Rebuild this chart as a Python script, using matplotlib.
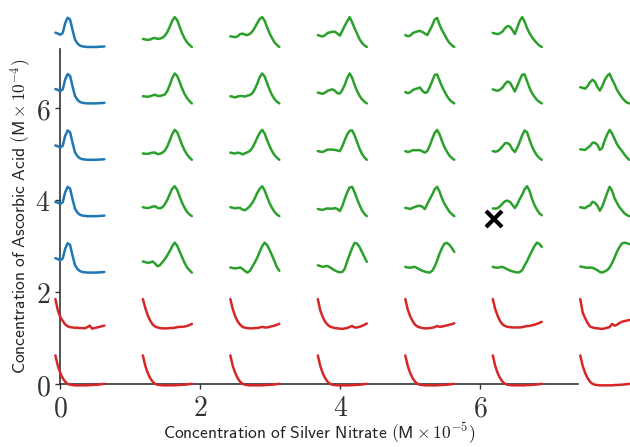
import numpy as np
import matplotlib
matplotlib.use("Agg")
import matplotlib.pyplot as plt

plt.rcParams["mathtext.fontset"] = "cm"

# grid of concentrations (x: silver nitrate, y: ascorbic acid)
silver_conc = [0.0, 1.25, 2.5, 3.75, 5.0, 6.25, 7.5]
ascorbic_conc = [0.0, 1.225, 2.45, 3.675, 4.9, 6.125, 7.35]
x_ticks = [0, 2, 4, 6]
y_ticks = [0, 2, 4, 6]
marker_x, marker_y = 6.2, 3.59

# normalised spectra, 21 samples each
blue_spec = [0.48, 0.45, 0.41, 0.47, 0.80, 0.98, 0.92, 0.57, 0.25, 0.12, 0.05,
             0.02, 0.01, 0.0, 0.0, 0.0, 0.0, 0.0, 0.01, 0.01, 0.02]

red_low = [1.0, 0.65, 0.41, 0.24, 0.12, 0.05, 0.02, 0.01, 0.0, 0.0, 0.0,
           0.0, 0.0, 0.0, 0.01, 0.01, 0.02, 0.02, 0.03, 0.04, 0.05]

# second row of red spectra, one per column
red_mid = [
    [1.0, 0.62, 0.40, 0.27, 0.15, 0.09, 0.06, 0.05, 0.04, 0.04, 0.03,
     0.03, 0.02, 0.06, 0.11, 0.01, 0.03, 0.05, 0.07, 0.09, 0.11],
    [1.0, 0.70, 0.45, 0.28, 0.15, 0.08, 0.05, 0.03, 0.02, 0.02, 0.02,
     0.03, 0.03, 0.04, 0.06, 0.07, 0.07, 0.08, 0.10, 0.13, 0.17],
    [1.0, 0.66, 0.42, 0.25, 0.14, 0.07, 0.04, 0.03, 0.02, 0.02, 0.03,
     0.03, 0.05, 0.07, 0.05, 0.05, 0.07, 0.09, 0.11, 0.14, 0.17],
    [1.0, 0.62, 0.40, 0.24, 0.14, 0.08, 0.05, 0.03, 0.02, 0.01, 0.0,
     0.02, 0.03, 0.07, 0.10, 0.05, 0.05, 0.07, 0.10, 0.14, 0.18],
    [1.0, 0.65, 0.42, 0.26, 0.14, 0.08, 0.05, 0.03, 0.02, 0.02, 0.03,
     0.04, 0.06, 0.10, 0.07, 0.08, 0.10, 0.12, 0.14, 0.16, 0.19],
    [1.0, 0.66, 0.44, 0.26, 0.15, 0.10, 0.07, 0.06, 0.05, 0.05, 0.05,
     0.05, 0.06, 0.08, 0.10, 0.10, 0.12, 0.14, 0.17, 0.20, 0.24],
    [1.0, 0.55, 0.36, 0.20, 0.08, 0.05, 0.03, 0.02, 0.01, 0.0, 0.02,
     0.04, 0.06, 0.17, 0.11, 0.14, 0.20, 0.24, 0.26, 0.28, 0.30],
]

# green spectra per column, rows 2..6 (bottom to top)
green_c1 = [
    [0.37, 0.35, 0.32, 0.34, 0.37, 0.30, 0.21, 0.25, 0.35, 0.45, 0.58,
     0.72, 0.88, 1.0, 0.90, 0.70, 0.52, 0.33, 0.18, 0.08, 0.0],
    [0.30, 0.28, 0.27, 0.29, 0.32, 0.33, 0.28, 0.26, 0.30, 0.40, 0.55,
     0.74, 0.92, 1.0, 0.88, 0.66, 0.45, 0.28, 0.15, 0.06, 0.0],
    [0.21, 0.20, 0.20, 0.22, 0.24, 0.24, 0.19, 0.20, 0.24, 0.31, 0.45,
     0.65, 0.86, 1.0, 0.92, 0.72, 0.50, 0.32, 0.18, 0.08, 0.0],
    [0.24, 0.23, 0.22, 0.24, 0.27, 0.29, 0.25, 0.25, 0.27, 0.30, 0.42,
     0.62, 0.85, 1.0, 0.92, 0.72, 0.50, 0.32, 0.18, 0.08, 0.0],
    [0.27, 0.25, 0.24, 0.25, 0.29, 0.30, 0.27, 0.28, 0.31, 0.38, 0.50,
     0.68, 0.88, 1.0, 0.90, 0.68, 0.46, 0.29, 0.16, 0.07, 0.0],
]
green_c2 = [
    [0.17, 0.15, 0.14, 0.15, 0.17, 0.12, 0.05, 0.0, 0.06, 0.20, 0.34,
     0.50, 0.70, 0.88, 1.0, 0.92, 0.76, 0.58, 0.38, 0.18, 0.06],
    [0.30, 0.28, 0.26, 0.28, 0.27, 0.22, 0.20, 0.26, 0.34, 0.45, 0.60,
     0.78, 0.92, 1.0, 0.86, 0.64, 0.44, 0.28, 0.15, 0.06, 0.0],
    [0.24, 0.22, 0.21, 0.24, 0.22, 0.18, 0.22, 0.25, 0.30, 0.40, 0.56,
     0.74, 0.90, 1.0, 0.88, 0.66, 0.46, 0.29, 0.16, 0.07, 0.0],
    [0.24, 0.22, 0.20, 0.23, 0.25, 0.24, 0.23, 0.26, 0.28, 0.34, 0.48,
     0.66, 0.88, 1.0, 0.90, 0.68, 0.46, 0.28, 0.15, 0.06, 0.0],
    [0.36, 0.34, 0.33, 0.36, 0.43, 0.45, 0.41, 0.40, 0.44, 0.52, 0.65,
     0.80, 0.94, 1.0, 0.88, 0.66, 0.46, 0.30, 0.16, 0.07, 0.0],
]
green_c3 = [
    [0.24, 0.22, 0.19, 0.21, 0.22, 0.17, 0.12, 0.07, 0.03, 0.01, 0.02,
     0.13, 0.38, 0.60, 0.82, 0.99, 0.97, 0.86, 0.69, 0.52, 0.36],
    [0.24, 0.22, 0.21, 0.24, 0.26, 0.25, 0.25, 0.27, 0.24, 0.17, 0.34,
     0.58, 0.80, 0.96, 0.98, 0.80, 0.58, 0.38, 0.20, 0.08, 0.0],
    [0.29, 0.27, 0.26, 0.30, 0.34, 0.34, 0.34, 0.33, 0.31, 0.29, 0.45,
     0.66, 0.85, 0.97, 0.98, 0.82, 0.60, 0.38, 0.20, 0.08, 0.0],
    [0.36, 0.34, 0.32, 0.36, 0.42, 0.45, 0.47, 0.42, 0.34, 0.33, 0.45,
     0.62, 0.85, 1.0, 0.86, 0.62, 0.42, 0.26, 0.14, 0.06, 0.0],
    [0.40, 0.37, 0.35, 0.40, 0.47, 0.49, 0.51, 0.51, 0.45, 0.38, 0.54,
     0.71, 0.86, 1.0, 0.83, 0.63, 0.45, 0.27, 0.14, 0.06, 0.0],
]
green_c4 = [
    [0.19, 0.17, 0.16, 0.18, 0.19, 0.14, 0.10, 0.06, 0.03, 0.01, 0.0,
     0.06, 0.20, 0.40, 0.64, 0.82, 0.97, 0.99, 0.93, 0.82, 0.69],
    [0.28, 0.26, 0.24, 0.28, 0.31, 0.34, 0.35, 0.31, 0.24, 0.41, 0.57,
     0.72, 0.90, 0.98, 0.82, 0.59, 0.41, 0.28, 0.15, 0.07, 0.0],
    [0.29, 0.26, 0.28, 0.32, 0.32, 0.32, 0.32, 0.28, 0.24, 0.30, 0.48,
     0.70, 0.90, 1.0, 0.85, 0.62, 0.42, 0.27, 0.14, 0.06, 0.0],
    [0.38, 0.34, 0.37, 0.44, 0.48, 0.50, 0.53, 0.42, 0.35, 0.38, 0.55,
     0.75, 0.95, 0.97, 0.76, 0.56, 0.40, 0.25, 0.13, 0.05, 0.0],
    [0.40, 0.36, 0.38, 0.46, 0.50, 0.52, 0.54, 0.50, 0.45, 0.40, 0.56,
     0.72, 0.92, 0.97, 0.74, 0.56, 0.42, 0.26, 0.14, 0.06, 0.0],
]
green_c5 = [
    [0.19, 0.17, 0.16, 0.18, 0.19, 0.15, 0.11, 0.07, 0.04, 0.02, 0.0,
     0.02, 0.08, 0.24, 0.38, 0.56, 0.72, 0.88, 1.0, 0.96, 0.86],
    [0.26, 0.25, 0.27, 0.33, 0.42, 0.50, 0.52, 0.48, 0.38, 0.27, 0.40,
     0.57, 0.72, 0.90, 1.0, 0.85, 0.58, 0.38, 0.22, 0.10, 0.03],
    [0.29, 0.27, 0.29, 0.36, 0.45, 0.55, 0.56, 0.50, 0.35, 0.26, 0.40,
     0.60, 0.82, 0.98, 0.92, 0.67, 0.45, 0.28, 0.15, 0.06, 0.0],
    [0.47, 0.44, 0.42, 0.46, 0.53, 0.65, 0.73, 0.70, 0.55, 0.40, 0.58,
     0.78, 0.96, 0.97, 0.74, 0.52, 0.35, 0.22, 0.12, 0.05, 0.0],
    [0.47, 0.45, 0.43, 0.46, 0.52, 0.63, 0.70, 0.68, 0.57, 0.43, 0.65,
     0.87, 1.0, 0.85, 0.63, 0.46, 0.33, 0.22, 0.13, 0.05, 0.0],
]
green_c6 = [
    [0.20, 0.19, 0.17, 0.16, 0.17, 0.16, 0.12, 0.08, 0.02, 0.0, 0.04,
     0.08, 0.17, 0.32, 0.50, 0.70, 0.85, 0.97, 1.0, 0.98, 0.95],
    [0.30, 0.28, 0.27, 0.33, 0.36, 0.48, 0.45, 0.35, 0.18, 0.32, 0.55,
     0.78, 0.98, 0.85, 0.60, 0.44, 0.30, 0.20, 0.10, 0.04, 0.0],
    [0.35, 0.34, 0.33, 0.40, 0.46, 0.57, 0.57, 0.50, 0.33, 0.40, 0.65,
     0.85, 1.0, 0.88, 0.70, 0.52, 0.40, 0.30, 0.18, 0.08, 0.0],
    [0.54, 0.52, 0.49, 0.58, 0.71, 0.79, 0.72, 0.55, 0.43, 0.58, 0.78,
     0.92, 0.99, 0.80, 0.64, 0.45, 0.32, 0.20, 0.10, 0.03, 0.0],
]
green_cols = [None, green_c1, green_c2, green_c3, green_c4, green_c5, green_c6]

BLUE, GREEN, RED = "#1f77b4", "#2ca02c", "#d62728"
CELL_W, CELL_H = 0.70, 0.65
OFF_X, OFF_Y = -0.07, -0.02

fig = plt.figure(figsize=(6.3, 4.47), dpi=100)
ax = fig.add_axes([0.0957, 0.140, 0.822, 0.7497])


def draw_spectrum(col, row, spec, color):
    t = np.linspace(0, 1, len(spec))
    xs = silver_conc[col] + OFF_X + t * CELL_W
    ys = ascorbic_conc[row] + OFF_Y + np.asarray(spec) * CELL_H
    ax.plot(xs, ys, color=color, lw=1.8, clip_on=False, zorder=3,
            solid_capstyle="round", solid_joinstyle="round")


for c in range(len(silver_conc)):
    draw_spectrum(c, 0, red_low, RED)
    draw_spectrum(c, 1, red_mid[c], RED)
    if c == 0:
        for r in range(2, 7):
            draw_spectrum(c, r, blue_spec, BLUE)
    else:
        for i, spec in enumerate(green_cols[c]):
            draw_spectrum(c, i + 2, spec, GREEN)

ax.plot([marker_x], [marker_y], marker="x", color="black", ms=11, mew=3,
        linestyle="none", zorder=5, clip_on=False)

ax.set_xlim(0, 7.4)
ax.set_ylim(0, 7.28)
for side in ("top", "right"):
    ax.spines[side].set_visible(False)
for side in ("left", "bottom"):
    ax.spines[side].set_color("#333333")
    ax.spines[side].set_linewidth(1.2)

ax.set_xticks(x_ticks)
ax.set_xticklabels([f"${v}$" for v in x_ticks], fontsize=20)
ax.set_yticks(y_ticks)
ax.set_yticklabels([f"${v}$" for v in y_ticks], fontsize=20)
ax.tick_params(colors="#333333", length=3.5, width=1.0)

fig.text(0.507, 1 - 433 / 447,
         r"$\mathsf{Concentration\ of\ Silver\ Nitrate\ (M\times10^{-5})}$",
         ha="center", va="center", fontsize=12.6, color="#222222")
fig.text(21 / 630, 1 - 216.8 / 447,
         r"$\mathsf{Concentration\ of\ Ascorbic\ Acid\ (M\times10^{-4})}$",
         ha="center", va="center", rotation=90, fontsize=12.6, color="#222222")

fig.savefig("out.png", dpi=100)
